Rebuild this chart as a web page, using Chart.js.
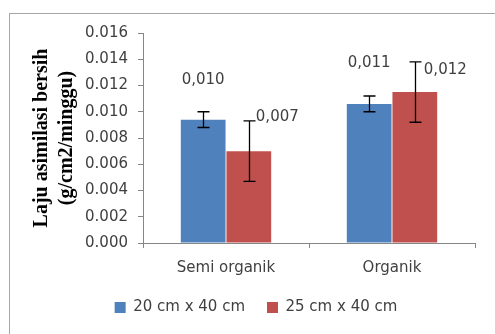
<!DOCTYPE html>
<html>
<head>
<meta charset="utf-8">
<script src="https://cdn.jsdelivr.net/npm/chart.js@4"></script>
<style>
  html, body { margin: 0; padding: 0; background: #fff; }
</style>
</head>
<body>
<canvas id="grafik" width="495" height="334"></canvas>
<script>
// data
const kategori = ['Semi organik', 'Organik'];
const seriNama = ['20 cm x 40 cm', '25 cm x 40 cm'];
const nilai20 = [0.0094, 0.0106];
const nilai25 = [0.0070, 0.0115];
const galat20 = [0.0006, 0.0006];
const galat25 = [0.0023, 0.0023];
const label20 = ['0,010', '0,011'];
const label25 = ['0,007', '0,012'];
const yMaks = 0.016;
const yLangkah = 0.002;

const teksAbu = '#404040';
const garisAbu = '#868686';
const hurufUmum = { family: 'DejaVu Sans', size: 15 };

// posisi label angka relatif ke ujung atas galat (dx, dy, align)
const posisiLabel = [
    [{ dx: 0, dy: -32, align: 'center' }, { dx: 0, dy: -33, align: 'center' }],
    [{ dx: 7, dy: -4, align: 'left' }, { dx: 9, dy: 8, align: 'left' }]
];

const bingkai = {
    id: 'bingkai',
    beforeDraw(chart) {
        const c = chart.ctx;
        c.save();
        c.strokeStyle = '#a6a6a6';
        c.lineWidth = 1;
        c.strokeRect(9.5, 13.5, 600, 400);
        c.restore();
    }
};

const galatBar = {
    id: 'galatBar',
    afterDatasetsDraw(chart) {
        const c = chart.ctx;
        const y = chart.scales.y;
        c.save();
        chart.data.datasets.forEach((ds, i) => {
            chart.getDatasetMeta(i).data.forEach((bar, j) => {
                const v = ds.data[j];
                const e = ds.galat[j];
                const yAtas = y.getPixelForValue(v + e);
                const yBawah = y.getPixelForValue(v - e);
                const x = Math.round(bar.x) + 0.5;
                c.strokeStyle = '#000';
                c.lineWidth = 1.3;
                c.beginPath();
                c.moveTo(x, yAtas); c.lineTo(x, yBawah);
                c.moveTo(x - 6, yAtas); c.lineTo(x + 6, yAtas);
                c.moveTo(x - 6, yBawah); c.lineTo(x + 6, yBawah);
                c.stroke();

                const p = posisiLabel[i][j];
                c.fillStyle = teksAbu;
                c.font = '15px "DejaVu Sans"';
                c.textAlign = p.align;
                c.textBaseline = 'middle';
                c.fillText(ds.teks[j], bar.x + p.dx, yAtas + p.dy);
            });
        });
        c.restore();
    }
};

new Chart(document.getElementById('grafik'), {
    type: 'bar',
    data: {
        labels: kategori,
        datasets: [{
            label: seriNama[0],
            data: nilai20,
            galat: galat20,
            teks: label20,
            backgroundColor: '#4F81BD'
        }, {
            label: seriNama[1],
            data: nilai25,
            galat: galat25,
            teks: label25,
            backgroundColor: '#C0504D'
        }]
    },
    options: {
        responsive: false,
        animation: false,
        categoryPercentage: 0.55,
        barPercentage: 0.98,
        layout: { padding: { left: 37, right: 20, top: 33, bottom: 9 } },
        plugins: {
            tooltip: { enabled: false },
            legend: {
                position: 'bottom',
                labels: {
                    boxWidth: 11,
                    boxHeight: 11,
                    padding: 22,
                    color: teksAbu,
                    font: hurufUmum
                }
            }
        },
        scales: {
            x: {
                afterFit: s => { s.height = 35; },
                grid: { drawOnChartArea: false, tickLength: 5, color: garisAbu },
                border: { color: garisAbu },
                ticks: { color: teksAbu, padding: 11, font: hurufUmum }
            },
            y: {
                min: 0,
                max: yMaks,
                afterFit: s => { s.width = 106; },
                grid: { drawOnChartArea: false, tickLength: 5, color: garisAbu },
                border: { color: garisAbu },
                ticks: {
                    stepSize: yLangkah,
                    color: teksAbu,
                    padding: 10,
                    font: hurufUmum,
                    callback: v => v.toFixed(3)
                },
                title: {
                    display: true,
                    text: ['Laju asimilasi bersih', '(g/cm2/minggu)'],
                    color: '#000',
                    font: { family: 'Liberation Serif', size: 20, weight: 'bold', lineHeight: '25px' },
                    padding: { top: -7.5, bottom: 0 }
                }
            }
        }
    },
    plugins: [bingkai, galatBar]
});
</script>
</body>
</html>
